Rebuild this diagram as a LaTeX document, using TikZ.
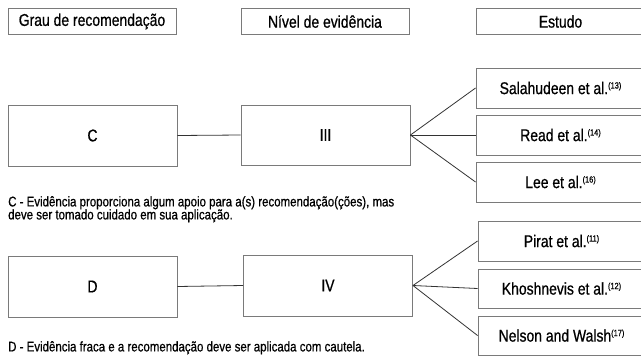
\documentclass[tikz,border=0pt]{standalone}
\usepackage{fontspec}
\setmainfont{Liberation Sans}[FakeStretch=0.82, FakeBold=0.7]
\definecolor{boxgray}{HTML}{7A7A7A}
\definecolor{linegray}{HTML}{333333}
\newcommand{\refsup}[1]{\raisebox{5.5pt}{\fontsize{9}{9}\selectfont(#1)}}
\tikzset{
  hbox/.style={draw=boxgray, line width=0.9pt, inner sep=0pt, minimum height=26pt,
    font=\fontsize{17}{18}\selectfont},
  bigbox/.style={draw=boxgray, line width=0.9pt, inner sep=0pt, minimum width=169pt,
    minimum height=61pt, font=\fontsize{17}{18}\selectfont},
  studybox/.style={draw=boxgray, line width=0.9pt, inner sep=0pt, minimum width=169pt,
    minimum height=40pt, font=\fontsize{17}{18}\selectfont},
  conn/.style={draw=linegray, line width=0.8pt},
  note/.style={anchor=north west, inner sep=0pt, align=left,
    font=\fontsize{14}{13.5}\selectfont}
}
\begin{document}
\begin{tikzpicture}[x=1pt, y=-1pt]
\useasboundingbox (0,0) rectangle (641,360);
% headers
\node[hbox, minimum width=168pt] (h1) at (92,21.5) {Grau de recomendação};
\node[hbox, minimum width=168pt] (h2) at (325,21.5) {Nível de evidência};
\node[hbox, minimum width=169pt] (h3) at (560.5,21.5) {Estudo};
% group C
\node[bigbox] (C) at (92.5,135.5) {C};
\node[bigbox, minimum height=60pt] (III) at (325.5,135) {III};
\node[studybox] (s1) at (560.5,88) {Salahudeen et al.\refsup{13}};
\node[studybox] (s2) at (560.5,135) {Read et al.\refsup{14}};
\node[studybox] (s3) at (560.5,182) {Lee et al.\refsup{16}};
\draw[conn] (C.east) -- (III.west);
\draw[conn] (III.east) -- (s1.west);
\draw[conn] (III.east) -- (s2.west);
\draw[conn] (III.east) -- (s3.west);
\node[note] (nC) at (8,196) {C - Evidência proporciona algum apoio para a(s) recomendação(ções), mas\\[-0.5pt]deve ser tomado cuidado em sua aplicação.};
% group D
\node[bigbox] (D) at (92.5,286.5) {D};
\node[bigbox] (IV) at (328,285.5) {IV};
\node[studybox, minimum width=167pt] (t1) at (561.5,241) {Pirat et al.\refsup{11}};
\node[studybox, minimum width=167pt, minimum height=39pt] (t2) at (561.5,288.5) {Khoshnevis et al.\refsup{12}};
\node[studybox, minimum width=167pt, minimum height=39pt] (t3) at (561.5,335.5) {Nelson and Walsh\refsup{17}};
\draw[conn] (D.east) -- (IV.west);
\draw[conn] (IV.east) -- (t1.west);
\draw[conn] (IV.east) -- (t2.west);
\draw[conn] (IV.east) -- (t3.west);
\node[note] (nD) at (8,341) {D - Evidência fraca e a recomendação deve ser aplicada com cautela.};
\end{tikzpicture}
\end{document}
